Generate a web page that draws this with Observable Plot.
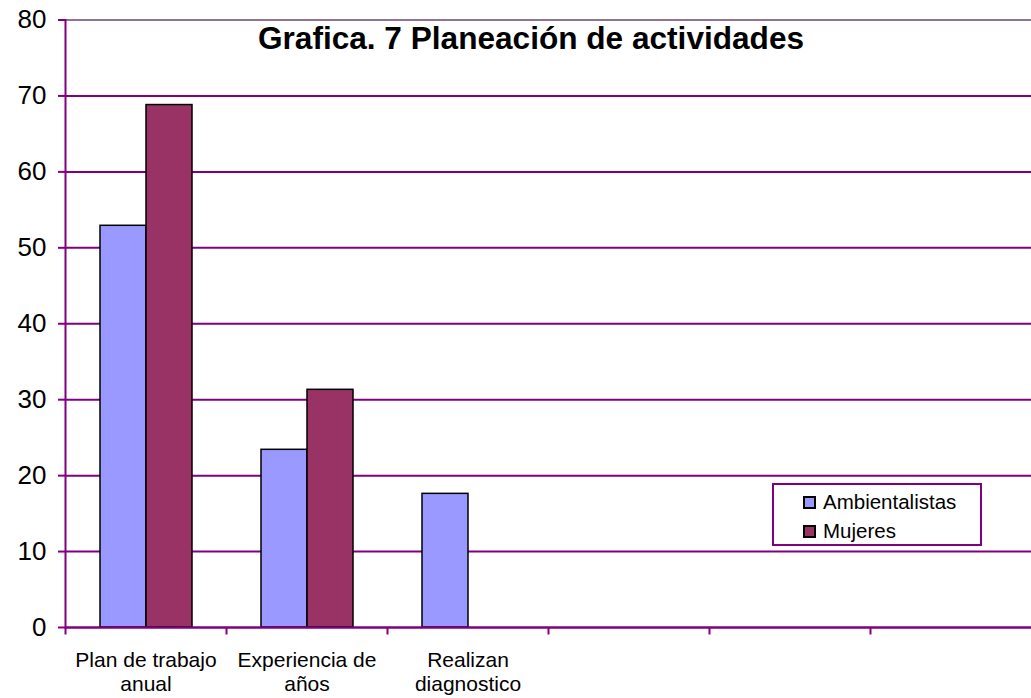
<!DOCTYPE html>
<html>
<head>
<meta charset="utf-8">
<script src="https://cdn.jsdelivr.net/npm/d3@7"></script>
<script src="https://cdn.jsdelivr.net/npm/@observablehq/plot@0.6"></script>
<style>
  html, body { margin: 0; padding: 0; background: #fff; }
  #wrap { position: relative; width: 1031px; height: 698px; font-family: Arial, "Liberation Sans", sans-serif; }
  #title { position: absolute; left: 0; width: 1062px; top: 23px; text-align: center; font-weight: bold; font-size: 31.6px; color: #000; line-height: 1; }
  #legend { position: absolute; left: 772px; top: 483px; width: 206px; height: 59px; border: 2px solid #800080; background: #fff; font-size: 20.5px; }
  .item { position: absolute; left: 29px; display: flex; align-items: center; line-height: 1; }
  .sw { width: 9px; height: 9px; border: 2px solid #000; margin-right: 7px; }
  g[aria-label="y-axis tick label"] text { font-size: 26px; }
  g[aria-label="fx-axis tick label"] text { font-size: 21px; }
</style>
</head>
<body>
<div id="wrap">
  <div id="chart"></div>
  <div id="title">Grafica. 7 Planeación de actividades</div>
  <div id="legend"></div>
</div>
<script>
const categories = ["Plan de trabajo\nanual", "Experiencia de\naños", "Realizan\ndiagnostico", " ", "  ", "   "];
const series = ["Ambientalistas", "Mujeres"];
const ambientalistas = [52.9, 23.4, 17.6, null, null, null];
const mujeres = [68.8, 31.3, null, null, null, null];
const colors = ["#9999FF", "#993366"];
const yTicks = [0, 10, 20, 30, 40, 50, 60, 70, 80];

const data = [];
categories.forEach((c, i) => {
  data.push({cat: c, serie: series[0], value: ambientalistas[i]});
  data.push({cat: c, serie: series[1], value: mujeres[i]});
});

const purple = "#800080";
const tickSymbol = { draw(ctx) { ctx.moveTo(0, 0); ctx.lineTo(0, 7); } };

const chart = Plot.plot({
  width: 1031,
  height: 698,
  marginLeft: 64,
  marginRight: 0,
  marginTop: 19.5,
  marginBottom: 71,
  style: { fontFamily: "Arial, 'Liberation Sans', sans-serif", color: "#000", background: "#fff" },
  fx: { domain: categories, padding: 0, label: null },
  x: { domain: series, paddingInner: 0, paddingOuter: 0.75, axis: null },
  y: { domain: [0, 80], label: null },
  color: { domain: series, range: colors },
  marks: [
    Plot.gridY(yTicks.slice(0, -1), { stroke: purple, strokeOpacity: 1, strokeWidth: 2 }),
    Plot.gridY([80], { stroke: "#927092", strokeOpacity: 1, strokeWidth: 2 }),
    Plot.barY(data.filter(d => d.value != null), { fx: "cat", x: "serie", y: "value", fill: "serie", stroke: "#000", strokeWidth: 1.5 }),
    Plot.ruleY(categories, { fx: d => d, y: () => 0, stroke: purple, strokeWidth: 2 }),
    Plot.frame({ anchor: "left", facetAnchor: "left", stroke: purple, strokeWidth: 2 }),
    Plot.dot([0], { frameAnchor: "bottom-left", symbol: tickSymbol, stroke: purple, strokeWidth: 2, fill: "none" }),
    Plot.axisY({ ticks: yTicks, tickSize: 7, tickPadding: 12, stroke: purple, strokeWidth: 2, color: "#000", tickFormat: d => String(d) }),
    Plot.axisFx({ anchor: "bottom", tickSize: 0, tickPadding: 22, lineHeight: 1.15, label: null })
  ]
});
document.getElementById("chart").appendChild(chart);

const legend = document.getElementById("legend");
series.forEach((s, i) => {
  const it = document.createElement("div");
  it.className = "item";
  it.style.top = (7 + i * 29) + "px";
  it.innerHTML = `<div class="sw" style="background:${colors[i]}"></div><span>${s}</span>`;
  legend.appendChild(it);
});
</script>
</body>
</html>
